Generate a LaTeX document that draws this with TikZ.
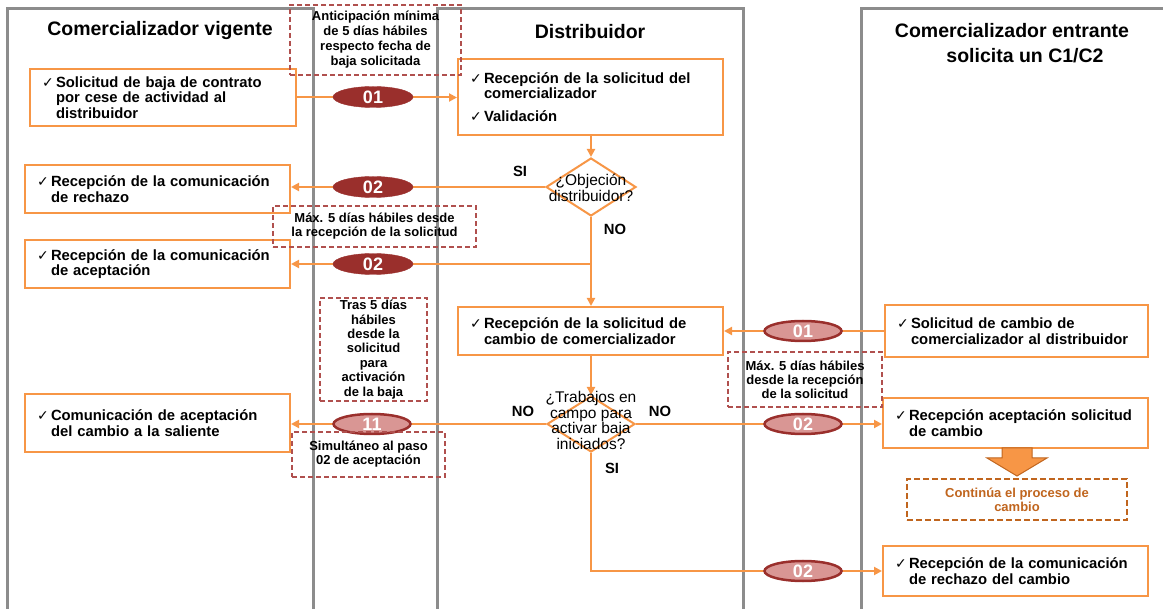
\documentclass[tikz,border=0pt]{standalone}
\usepackage{fontspec}
\setmainfont{Liberation Sans}
\newfontfamily\symf{DejaVu Sans}
\usetikzlibrary{shapes.geometric,arrows.meta}
\definecolor{orl}{HTML}{F79646}
\definecolor{lanec}{HTML}{8C8C8C}
\definecolor{dred}{HTML}{9A2F2C}
\definecolor{pinkc}{HTML}{D99694}
\definecolor{dashc}{HTML}{B0504E}
\definecolor{brownc}{HTML}{C0651E}
\newcommand\ck{\noindent\makebox[14pt][l]{\symf\mdseries\fontsize{14}{14}\selectfont ✓}}
\newcommand\ind{\hspace*{14pt}}
\begin{document}
\begin{tikzpicture}[x=1pt,y=-1pt,
 lane/.style={draw=lanec,line width=3pt},
 box/.style={draw=orl,line width=2pt,fill=white,inner xsep=12pt,inner ysep=2pt,align=left,font=\bfseries\fontsize{14.8}{15.5}\selectfont},
 dec/.style={diamond,draw=orl,line width=2pt,fill=white,inner sep=0pt},
 dectext/.style={align=center,font=\fontsize{15.5}{14}\selectfont},
 ovd/.style={ellipse,fill=dred,draw=dred,inner sep=0pt,minimum width=80pt,minimum height=21pt,text=white,font=\bfseries\fontsize{18}{18}\selectfont},
 ovl/.style={ellipse,fill=pinkc,draw=dred,line width=2.5pt,inner sep=0pt,minimum width=77pt,minimum height=20pt,text=white,font=\bfseries\fontsize{18}{18}\selectfont},
 note/.style={draw=dashc,line width=1.2pt,dash pattern=on 5pt off 3pt,align=center,inner sep=0pt,font=\bfseries\fontsize{13}{14}\selectfont},
 flow/.style={draw=orl,line width=2pt,-{Triangle[length=8pt,width=8pt]}},
 lab/.style={font=\bfseries\fontsize{14.8}{15}\selectfont},
 ttl/.style={font=\bfseries\fontsize{19.5}{25}\selectfont,align=center}
]
\useasboundingbox (0,0) rectangle (1163,609);
% lanes
\draw[lane] (7,612) -- (7,9) -- (313,9) -- (313,612);
\draw[lane] (437,612) -- (437,9) -- (743,9) -- (743,612);
\draw[lane] (861,612) -- (861,9) -- (1166,9);
% titles
\node[ttl] (t1) at (160,31) {Comercializador vigente};
\node[ttl] (t2) at (590,32) {Distribuidor};
\node[ttl] (t3) at (1012,43.5) {Comercializador entrante\\\hspace*{26pt}solicita un C1/C2};
% boxes
\node[box,text width=242pt,minimum height=57pt] (b1) at (163,97.5) {\ck Solicitud de baja de contrato\\\ind por cese de actividad al\\\ind distribuidor};
\node[box,text width=241pt,minimum height=76pt] (b2) at (590.5,97) {\ck Recepción de la solicitud del\\\ind comercializador\\[7pt]\ck Validación};
\node[dec,minimum width=90pt,minimum height=58pt] (d1) at (591,187) {};
\node[dectext] (d1t) at (591,188) {¿Objeción\\distribuidor?};
\node[box,text width=241pt,minimum height=48pt] (b3) at (157.5,189) {\ck Recepción de la comunicación\\\ind de rechazo};
\node[box,text width=241pt,minimum height=48pt] (b4) at (157.5,264) {\ck Recepción de la comunicación\\\ind de aceptación};
\node[box,text width=241pt,minimum height=48pt] (b5) at (590.5,331) {\ck Recepción de la solicitud de\\\ind cambio de comercializador};
\node[dec,minimum width=88pt,minimum height=56pt] (d2) at (591,424) {};
\node[box,text width=241pt,minimum height=58pt] (b9) at (157.5,423) {\ck Comunicación de aceptación\\\ind del cambio a la saliente};
\node[box,text width=239pt,minimum height=52pt] (b6) at (1016.5,331) {\ck Solicitud de cambio de\\\ind comercializador al distribuidor};
\node[box,text width=241pt,minimum height=50pt] (b7) at (1015.5,423) {\ck Recepción aceptación solicitud\\\ind de cambio};
\node[box,text width=241pt,minimum height=50pt] (b8) at (1015.5,571) {\ck Recepción de la comunicación\\\ind de rechazo del cambio};
% connectors
\draw[flow] (b1.east) -- (b1.east -| b2.west);
\draw[flow] (d1.north |- b2.south) -- (d1.north);
\draw[flow] (d1.west) -- (d1.west -| b3.east);
\coordinate (j1) at (d1.south |- b4.east);
\draw[flow] (d1.south) -- (d1.south |- b5.north);
\draw[flow] (j1) -- (b4.east);
\draw[flow] (b6.west) -- (b6.west -| b5.east);
\draw[flow] (d2.north |- b5.south) -- (d2.north);
\draw[flow] (d2.west) -- (d2.west -| b9.east);
\draw[flow] (d2.east) -- (d2.east -| b7.west);
\coordinate (j2) at (d2.south |- b8.west);
\draw[flow] (d2.south) -- (j2) -- (b8.west);
\node[dectext,font=\fontsize{15.5}{15.5}\selectfont] (d2t) at (591,420.5) {¿Trabajos en\\campo para\\activar baja\\iniciados?};
% ovals
\node[ovd] (o1) at (373,97) {01};
\node[ovd] (o2) at (373,187) {02};
\node[ovd] (o3) at (373,264) {02};
\node[ovl] (o4) at (372,424) {11};
\node[ovl] (r1) at (803,331) {01};
\node[ovl] (r2) at (803,424) {02};
\node[ovl] (r3) at (803,571) {02};
% labels
\node[lab] (l1) at (520,171) {SI};
\node[lab] (l2) at (615,229) {NO};
\node[lab] (l3) at (523,411) {NO};
\node[lab] (l4) at (660,411) {NO};
\node[lab] (l5) at (612,468) {SI};
% notes
\node[note,font=\bfseries\fontsize{13}{15}\selectfont,minimum width=171pt,minimum height=70pt] (na) at (375.5,40) {Anticipación mínima\\de 5 días hábiles\\respecto fecha de\\baja solicitada};
\node[note,minimum width=203pt,minimum height=41pt] (nb) at (374.5,226.5) {Máx. 5 días hábiles desde\\la recepción de la solicitud};
\node[note,font=\bfseries\fontsize{13}{14.4}\selectfont,minimum width=107pt,minimum height=103pt] (nc) at (373.5,349.5) {Tras 5 días\\hábiles\\desde la\\solicitud\\para\\activación\\de la baja};
\node[note,minimum width=153pt,minimum height=45pt] (nd) at (368.5,454.5) {Simultáneo al paso\\02 de aceptación};
\node[note,minimum width=154pt,minimum height=55pt] (ne) at (805,379.5) {Máx. 5 días hábiles\\desde la recepción\\de la solicitud};
\node[note,draw=brownc,text=brownc,dash pattern=on 6pt off 3pt,minimum width=220pt,minimum height=41pt] (nf) at (1017,499.5) {Continúa el proceso de\\cambio};
% big arrow
\draw[fill=orl,draw=brownc,line width=1pt] (1002,448) -- (1032,448) -- (1032,458) -- (1047,458) -- (1017,476) -- (987,458) -- (1002,458) -- cycle;
\end{tikzpicture}
\end{document}
